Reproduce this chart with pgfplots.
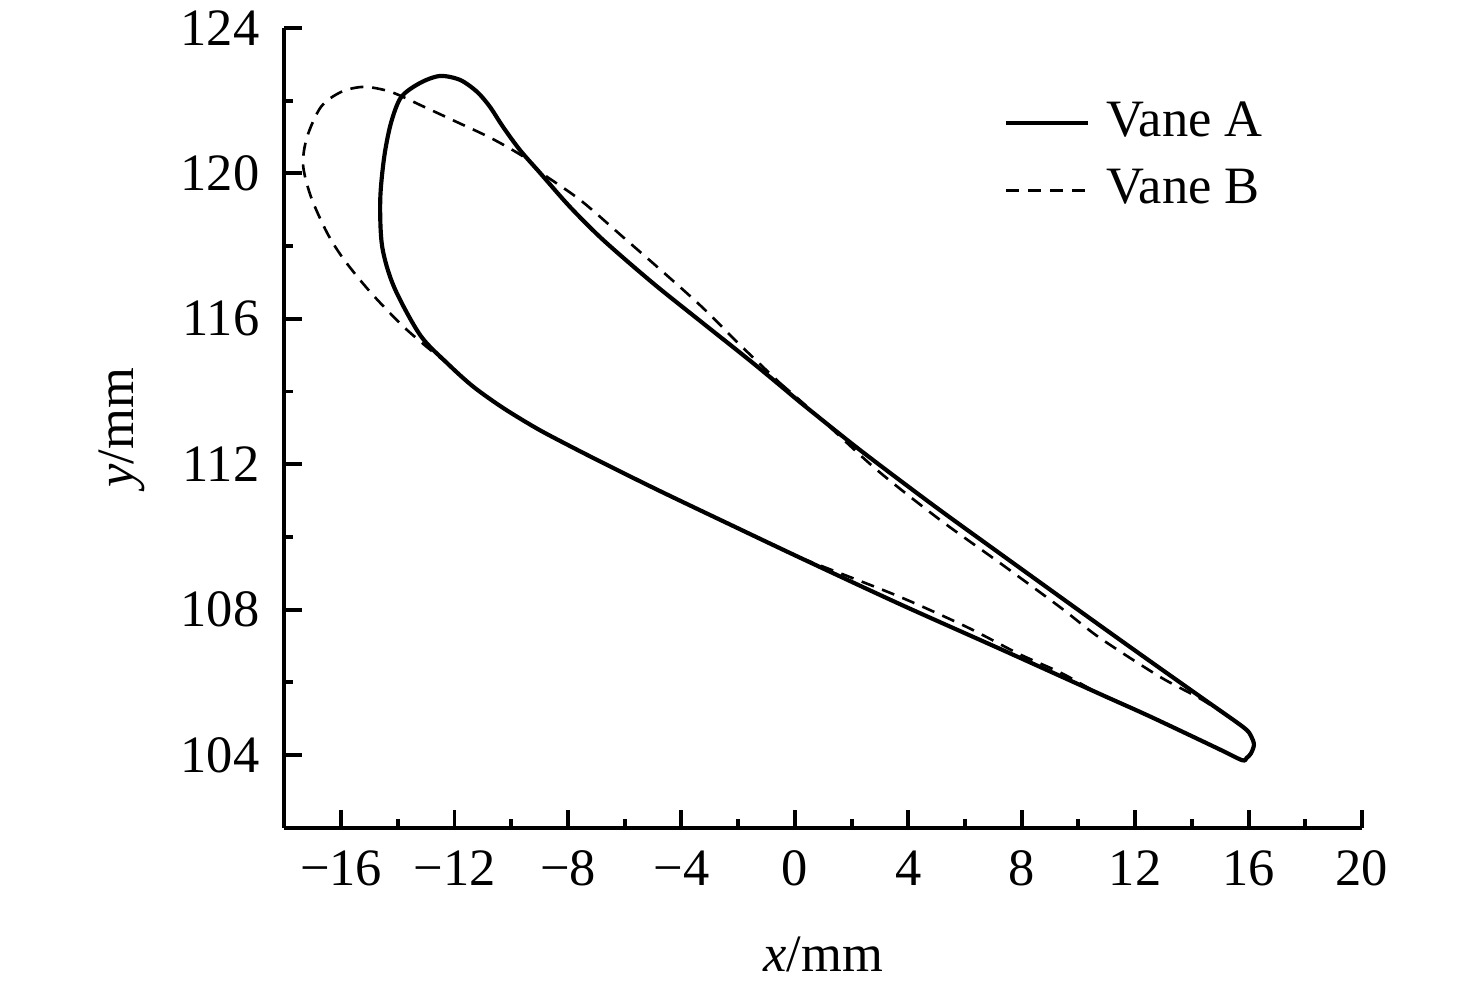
\documentclass[border=0pt]{standalone}
\usepackage{fontspec}
\setmainfont{Liberation Serif}
\usepackage{pgfplots}
\pgfplotsset{compat=1.18}
\pgfplotstableread{
x y
0.18 113.71
2.30 112.39
4.87 110.88
7.24 109.54
10.66 107.62
12.53 106.58
14.29 105.61
15.81 104.77
16.09 104.52
16.19 104.28
16.08 104.04
15.93 103.92
15.77 103.86
14.89 104.19
12.53 105.06
10.76 105.68
7.24 106.92
3.71 108.15
0.18 109.43
-2.28 110.34
-4.75 111.26
-6.62 111.98
-7.93 112.50
-9.09 112.98
-10.29 113.55
-11.35 114.14
-12.26 114.78
-13.21 115.55
-14.13 116.87
-14.55 117.98
-14.62 119.27
-14.48 120.45
-14.24 121.39
-13.88 122.10
-13.21 122.49
-12.51 122.68
-11.80 122.57
-11.20 122.24
-10.75 121.83
-10.29 121.28
-9.69 120.64
-8.98 120.01
-7.93 119.08
-6.76 118.17
-5.00 116.98
-3.24 115.88
-1.47 114.78
0.18 113.71
}\vaneA
\pgfplotstableread{
x y
-0.52 114.23
0.89 113.27
2.90 111.84
5.12 110.47
7.24 109.28
9.35 108.07
10.76 107.22
12.88 106.15
14.39 105.51
15.81 104.77
16.09 104.52
16.19 104.28
16.08 104.04
15.93 103.92
15.77 103.86
14.89 104.19
12.53 105.06
10.76 105.68
9.39 106.26
7.91 106.78
6.07 107.52
3.71 108.35
1.14 109.14
0.18 109.43
-2.28 110.34
-4.75 111.26
-6.62 111.98
-7.93 112.50
-9.09 112.98
-10.29 113.55
-11.35 114.14
-12.26 114.78
-12.72 115.06
-13.78 115.77
-14.94 116.71
-15.89 117.62
-16.49 118.36
-17.06 119.35
-17.34 120.23
-17.20 121.00
-16.71 121.83
-16.00 122.24
-15.19 122.38
-14.24 122.24
-13.07 121.83
-11.91 121.41
-10.71 120.97
-9.55 120.45
-8.98 120.04
-7.57 119.27
-6.06 118.25
-4.65 117.29
-3.24 116.30
-1.93 115.28
-0.52 114.23
}\vaneB
\begin{document}
\fontsize{12}{14.4}\selectfont
\begin{tikzpicture}
\begin{axis}[
  name=ax,
  scale only axis,
  width=246.3pt, height=182.8pt,
  xmin=-18, xmax=20, ymin=102, ymax=124,
  axis x line*=bottom, axis y line*=left,
  axis line style={line width=0.9pt, black},
  xtick={-16,-12,...,20},
  xticklabels={−16,−12,−8,−4,0,4,8,12,16,20},
  minor xtick={-14,-10,...,18},
  ytick={104,108,...,124},
  minor ytick={102,106,...,122},
  tick align=inside,
  major tick length=4pt, minor tick length=2pt,
  every tick/.style={line width=0.9pt, black},
  /pgf/number format/assume math mode=true,
  xticklabel style={yshift=-1pt},
  yticklabel style={xshift=-1.5pt},
  xlabel={\textit{x}/mm},
  ylabel={\textit{y}/mm},
  xlabel style={yshift=-3.5pt},
  legend style={draw=none, fill=none, at={(0.655,0.931)}, anchor=north west, row sep=1.8pt},
  legend cell align=left,
  reverse legend,
  legend image code/.code={\draw[#1] (0cm,0cm) -- (0.66cm,0cm); \path (0.72cm,0cm);},
]
\addplot[black, line width=0.6pt, dash pattern=on 3pt off 2pt, smooth, tension=0.5] table[x=x,y=y] {\vaneB};
\addlegendentry{Vane B}
\addplot[black, line width=0.95pt, smooth, tension=0.5] table[x=x,y=y] {\vaneA};
\addlegendentry{Vane A}
\end{axis}
\pgfresetboundingbox
\path ([shift={(-65.0pt,-37.55pt)}]ax.south west) rectangle ([shift={(26.06pt,6.4pt)}]ax.north east);
\end{tikzpicture}
\end{document}
